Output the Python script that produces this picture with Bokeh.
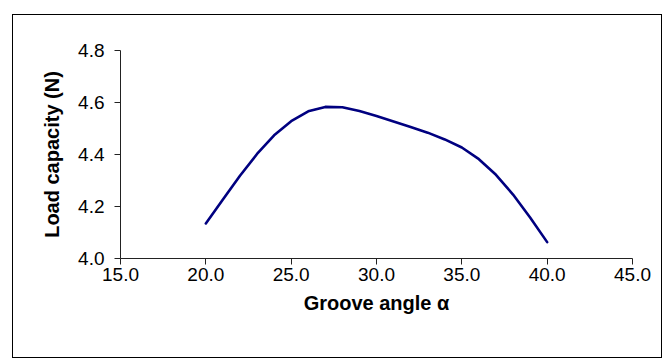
from bokeh.plotting import figure
from bokeh.models import Range1d, FixedTicker, CustomJSTickFormatter, InlineStyleSheet
from bokeh.embed import file_html
from bokeh.resources import INLINE

# Groove angle (deg) and the corresponding load capacity (N)
groove_angle = [20, 21, 22, 23, 24, 25, 26, 27, 28, 29, 30,
                31, 32, 33, 34, 35, 36, 37, 38, 39, 40]
load_capacity = [4.135, 4.227, 4.318, 4.402, 4.474, 4.528, 4.566, 4.583, 4.582, 4.567, 4.548,
                 4.527, 4.506, 4.484, 4.458, 4.427, 4.382, 4.322, 4.246, 4.158, 4.063]

x_ticks = [15, 20, 25, 30, 35, 40, 45]
y_ticks = [4.0, 4.2, 4.4, 4.6, 4.8]

FONT = "Liberation Sans"

# Thin frame around the whole chart area
chart_frame = InlineStyleSheet(css="""
:host { position: relative; }
:host::after {
  content: '';
  position: absolute;
  left: 12px; top: 14px; width: 650px; height: 344px;
  box-sizing: border-box;
  border: 1px solid #000;
  pointer-events: none;
}
""")

p = figure(width=663, height=359, output_backend="svg", toolbar_location=None,
           x_range=Range1d(15, 45), y_range=Range1d(4.0, 4.8),
           min_border_left=120, min_border_right=31, min_border_top=50, min_border_bottom=101,
           stylesheets=[chart_frame])
p.outline_line_color = None
p.background_fill_color = "white"
p.border_fill_color = "white"
p.grid.visible = False

p.line(groove_angle, load_capacity, line_color="#000080", line_width=2.6,
       line_join="round", line_cap="round")

for ax, ticks in ((p.xaxis[0], x_ticks), (p.yaxis[0], y_ticks)):
    ax.ticker = FixedTicker(ticks=ticks)
    ax.formatter = CustomJSTickFormatter(code="return tick.toFixed(1);")
    ax.minor_tick_line_color = None
    ax.major_tick_in = 0
    ax.major_tick_out = 6
    ax.axis_line_color = "#222222"
    ax.major_tick_line_color = "#222222"
    ax.major_label_text_font = FONT
    ax.major_label_text_font_size = "19px"
    ax.major_label_text_color = "black"
    ax.axis_label_text_font = FONT
    ax.axis_label_text_font_style = "bold"
    ax.axis_label_text_font_size = "20px"
    ax.axis_label_text_color = "black"

p.xaxis.axis_label = "Groove angle α"
p.yaxis.axis_label = "Load capacity (N)"
p.xaxis.major_label_standoff = 3
p.xaxis.axis_label_standoff = 8
p.yaxis.major_label_standoff = 10
p.yaxis.axis_label_standoff = 12

open("out.html", "w").write(file_html(p, INLINE))
